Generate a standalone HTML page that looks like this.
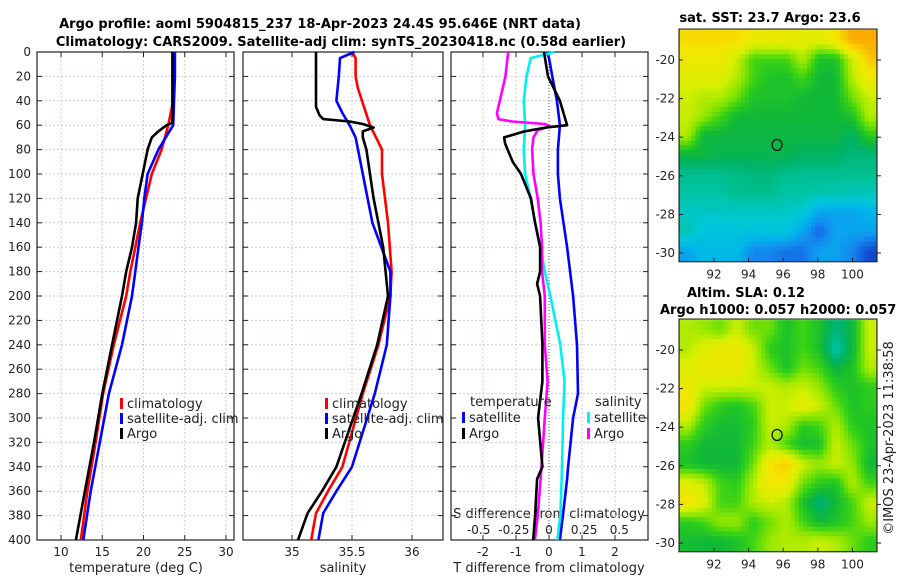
<!DOCTYPE html>
<html><head><meta charset="utf-8"><style>
html,body{margin:0;padding:0;background:#fff;}
svg{display:block;font-family:"DejaVu Sans","Liberation Sans",sans-serif;}
</style></head><body>
<svg id="fig" width="900" height="580" viewBox="0 0 900 580">
<text x="320" y="28" font-size="13" font-weight="bold" text-anchor="middle">Argo profile: aoml 5904815_237 18-Apr-2023 24.4S 95.646E (NRT data)</text>
<text x="341" y="46" font-size="13" font-weight="bold" text-anchor="middle">Climatology: CARS2009. Satellite-adj clim: synTS_20230418.nc (0.58d earlier)</text>
<text x="770" y="22" font-size="13" font-weight="bold" text-anchor="middle">sat. SST: 23.7 Argo: 23.6</text>
<text x="687" y="297" font-size="13" font-weight="bold">Altim. SLA: 0.12</text>
<text x="660" y="314" font-size="13" font-weight="bold">Argo h1000: 0.057 h2000: 0.057</text>
<text x="0" y="0" font-size="13" text-anchor="middle" transform="translate(893,438) rotate(-90)" fill="#222">©IMOS 23-Apr-2023 11:38:58</text>
<text x="136" y="572" font-size="13" text-anchor="middle" fill="#222">temperature (deg C)</text>
<text x="343" y="572" font-size="13" text-anchor="middle" fill="#222">salinity</text>
<text x="549" y="572" font-size="13" text-anchor="middle" fill="#222">T difference from climatology</text>
<text x="549" y="518" font-size="13" text-anchor="middle" fill="#222">S difference from climatology</text>
</svg>
<script>
// ---- profile data (depth in m) ----
const depthTicks = [0,20,40,60,80,100,120,140,160,180,200,220,240,260,280,300,320,340,360,380,400];
const tempTicks = [10,15,20,25,30];
const salTicks = [35,35.5,36];
const salTickLabels = ["35","35.5","36"];
const tdiffTicks = [-2,-1,0,1,2];
const sdiffTicks = [-0.5,-0.25,0,0.25,0.5];
const sdiffTickLabels = ["-0.5","-0.25","0","0.25","0.5"];

const tempClimDepth = [0,20,40,60,80,100,120,140,160,180,200,240,280,320,360,400];
const tempClim = [23.7,23.7,23.6,23.0,22.2,21.0,20.3,19.6,19.0,18.4,17.9,16.4,15.1,14.2,13.2,12.4];
const tempSatDepth = [0,20,40,60,80,100,120,140,160,180,200,240,280,320,360,400];
const tempSat = [23.8,23.8,23.7,23.6,21.8,20.5,20.1,19.8,19.4,19.0,18.6,17.4,15.8,14.7,13.6,12.7];
const tempArgoDepth = [0,20,40,58,60,65,70,80,100,120,140,160,180,200,240,280,320,360,400];
const tempArgo = [23.5,23.5,23.5,23.5,22.8,21.8,21.0,20.5,19.9,19.3,19.1,18.6,17.9,17.4,16.2,15.0,14.0,12.9,11.8];

const salClimDepth = [0,5,20,30,60,80,100,140,180,200,240,280,340,360,378,400];
const salClim = [35.5,35.53,35.53,35.55,35.65,35.75,35.75,35.8,35.83,35.82,35.72,35.59,35.42,35.3,35.2,35.16];
const salSatDepth = [0,5,20,40,50,60,70,80,100,140,180,200,240,280,340,360,378,400];
const salSat = [35.52,35.4,35.39,35.37,35.42,35.48,35.53,35.55,35.59,35.67,35.82,35.82,35.79,35.69,35.5,35.37,35.26,35.22];
const salArgoDepth = [0,20,40,45,52,55,57,59,62,65,70,80,100,120,140,160,180,200,240,280,340,360,378,400];
const salArgo = [35.2,35.2,35.2,35.2,35.23,35.26,35.48,35.59,35.68,35.59,35.59,35.62,35.65,35.68,35.72,35.76,35.78,35.8,35.71,35.58,35.37,35.25,35.13,35.05];

const tdSatDepth = [0,5,20,40,60,80,100,120,160,200,240,280,300,340,350,380,400];
const tdSat = [-0.06,0,0.1,0.24,0.33,0.27,0.27,0.33,0.55,0.73,0.85,0.88,0.73,0.58,0.55,0.42,0.33];
const tdArgoDepth = [0,20,40,60,62,65,70,75,90,100,120,140,160,180,190,200,240,270,300,340,350,380,400];
const tdArgo = [-0.15,-0.03,0.33,0.55,-0.1,-0.73,-1.36,-1.33,-1.1,-0.85,-0.55,-0.42,-0.27,-0.27,-0.36,-0.27,-0.2,-0.2,-0.33,-0.2,-0.36,-0.42,-0.48];
const sdSatDepth = [0,5,20,40,60,80,100,120,140,160,180,200,240,270,300,350,380,400];
const sdSat = [0.04,-0.13,-0.16,-0.18,-0.17,-0.18,-0.17,-0.13,-0.1,-0.06,-0.03,0.01,0.08,0.11,0.1,0.09,0.08,0.06];
const sdArgoDepth = [0,20,40,50,55,57,59,61,64,70,80,100,120,140,160,180,200,240,270,300,350,380,400];
const sdArgo = [-0.29,-0.31,-0.35,-0.37,-0.36,-0.26,-0.03,0.01,-0.08,-0.11,-0.12,-0.11,-0.08,-0.06,-0.05,-0.05,-0.03,-0.03,-0.01,-0.03,-0.06,-0.08,-0.1];

// ---- map data (colour index 0..1), 12 rows (north->south) x 12 cols (west->east) ----
const lonTicks = [92,94,96,98,100];
const latTicks = [-20,-22,-24,-26,-28,-30];
const argoLon = 95.646;
const argoLat = -24.4;
const sstGrid = [
[0.82,0.82,0.82,0.82,0.78,0.78,0.78,0.76,0.76,0.8,0.9,0.9],
[0.78,0.78,0.78,0.72,0.62,0.62,0.62,0.7,0.58,0.58,0.72,0.85],
[0.75,0.75,0.75,0.7,0.62,0.58,0.58,0.62,0.56,0.56,0.7,0.78],
[0.72,0.7,0.7,0.65,0.58,0.58,0.58,0.56,0.56,0.56,0.65,0.72],
[0.72,0.68,0.62,0.56,0.56,0.56,0.56,0.56,0.56,0.56,0.58,0.7],
[0.7,0.55,0.55,0.55,0.55,0.55,0.55,0.55,0.55,0.55,0.52,0.6],
[0.55,0.55,0.54,0.54,0.54,0.54,0.54,0.52,0.52,0.52,0.5,0.5],
[0.48,0.48,0.48,0.49,0.5,0.5,0.48,0.48,0.48,0.48,0.48,0.48],
[0.46,0.46,0.46,0.48,0.48,0.48,0.46,0.46,0.45,0.45,0.44,0.44],
[0.42,0.42,0.42,0.42,0.42,0.42,0.42,0.4,0.3,0.3,0.3,0.33],
[0.45,0.38,0.38,0.38,0.38,0.38,0.38,0.3,0.2,0.3,0.3,0.3],
[0.3,0.35,0.35,0.35,0.25,0.25,0.22,0.22,0.3,0.3,0.25,0.15]];
const slaGrid = [
[0.7,0.68,0.65,0.72,0.65,0.65,0.58,0.62,0.58,0.5,0.55,0.72],
[0.7,0.75,0.78,0.78,0.72,0.6,0.58,0.62,0.58,0.45,0.55,0.72],
[0.75,0.78,0.78,0.78,0.72,0.65,0.58,0.65,0.62,0.55,0.58,0.7],
[0.78,0.72,0.72,0.72,0.72,0.72,0.7,0.72,0.68,0.6,0.58,0.6],
[0.8,0.65,0.6,0.58,0.62,0.72,0.72,0.76,0.72,0.65,0.58,0.6],
[0.7,0.6,0.57,0.57,0.6,0.72,0.7,0.6,0.62,0.7,0.6,0.58],
[0.6,0.56,0.56,0.56,0.62,0.7,0.62,0.57,0.58,0.72,0.65,0.58],
[0.58,0.56,0.56,0.56,0.65,0.8,0.85,0.72,0.68,0.72,0.68,0.56],
[0.75,0.72,0.62,0.6,0.7,0.8,0.78,0.65,0.6,0.58,0.7,0.62],
[0.8,0.75,0.62,0.62,0.7,0.72,0.7,0.58,0.5,0.56,0.62,0.72],
[0.6,0.62,0.68,0.68,0.6,0.65,0.7,0.62,0.56,0.58,0.62,0.68],
[0.57,0.56,0.56,0.58,0.62,0.68,0.7,0.7,0.72,0.7,0.65,0.6]];

const NS = "http://www.w3.org/2000/svg";
const svg = document.getElementById('fig');
function el(tag, attrs, parent){ const e=document.createElementNS(NS,tag); for(const k in attrs) e.setAttribute(k,attrs[k]); (parent||svg).appendChild(e); return e; }
function txt(x,y,s,attrs,parent){ const t=el('text',Object.assign({x:x,y:y,'font-size':12,fill:'#222'},attrs||{}),parent); t.textContent=s; return t; }

const Y0=52, Y1=540;
const yDepth = d => Y0 + d*(Y1-Y0)/400;
const panels = [
  {name:'temperature', x0:37, x1:234, xs:v=>61+(v-10)*8.25},
  {name:'salinity', x0:243, x1:443, xs:v=>292+(v-35)*120},
  {name:'difference', x0:451, x1:648, xs:v=>549+v*33}
];
const xS3 = v => 549 + v*140.7;

panels.forEach((p,i)=>{
  const g = el('g',{});
  
  
  depthTicks.forEach(d=>{
    const y=yDepth(d);
    const l=el('line',{x1:p.x0,x2:p.x1,y1:y,y2:y,stroke:'#c4cce6','stroke-width':1,'stroke-dasharray':'2,2'},g);
    
    
    el('line',{x1:p.x0,x2:p.x0+5,y1:y,y2:y,stroke:'#222'},g);
    el('line',{x1:p.x1-5,x2:p.x1,y1:y,y2:y,stroke:'#222'},g);
  });
  const ticks = i===0?tempTicks:(i===1?salTicks:tdiffTicks);
  const labels = i===1?salTickLabels:ticks.map(String);
  ticks.forEach((t,k)=>{
    const x=p.xs(t);
    const l=el('line',{x1:x,x2:x,y1:Y0,y2:Y1,stroke:(i===2&&t===0)?'#555':'#e0c8b8','stroke-width':1,'stroke-dasharray':(i===2&&t===0)?'1,2':'2,2'},g);
    
    
    el('line',{x1:x,x2:x,y1:Y0,y2:Y0+5,stroke:'#222'},g);
    el('line',{x1:x,x2:x,y1:Y1-5,y2:Y1,stroke:'#222'},g);
    const tl=txt(x,556,labels[k],{'text-anchor':'middle'},g);
    
    
  });
  const b=el('rect',{x:p.x0,y:Y0,width:p.x1-p.x0,height:Y1-Y0,fill:'none',stroke:'#222','stroke-width':1.2},g);
  
  
});
depthTicks.forEach(d=>{
  const t=txt(31,yDepth(d)+4,String(d),{'text-anchor':'end'});
  
  
});
sdiffTicks.forEach((v,k)=>{
  const t=txt(xS3(v),534,sdiffTickLabels[k],{'text-anchor':'middle'});
  
  
});

function profile(depths, vals, xs, color, name){
  const pts = vals.map((v,k)=>xs(v).toFixed(1)+','+yDepth(depths[k]).toFixed(1)).join(' ');
  const pl = el('polyline',{points:pts,fill:'none',stroke:color,'stroke-width':2.6,'stroke-linejoin':'round'});
  
  
}
profile(tempClimDepth,tempClim,panels[0].xs,'#ff0000','temp-climatology-line');
profile(tempSatDepth,tempSat,panels[0].xs,'#0000ff','temp-satellite-line');
profile(tempArgoDepth,tempArgo,panels[0].xs,'#000000','temp-argo-line');
profile(salClimDepth,salClim,panels[1].xs,'#ff0000','sal-climatology-line');
profile(salSatDepth,salSat,panels[1].xs,'#0000ff','sal-satellite-line');
profile(salArgoDepth,salArgo,panels[1].xs,'#000000','sal-argo-line');
profile(tdSatDepth,tdSat,panels[2].xs,'#0000ff','tdiff-satellite-line');
profile(sdSatDepth,sdSat,xS3,'#00f0f0','sdiff-satellite-line');
profile(sdArgoDepth,sdArgo,xS3,'#ff00ff','sdiff-argo-line');
profile(tdArgoDepth,tdArgo,panels[2].xs,'#000000','tdiff-argo-line');

function legend(x,y,color,label,name){
  const g=el('g',{});
  
  
  el('rect',{x:x,y:y-10,width:3,height:11,fill:color},g);
  txt(x+7,y,label,{'font-size':13},g);
}
[['#ff0000','climatology'],['#0000ff','satellite-adj. clim'],['#000000','Argo']].forEach((e,k)=>{
  legend(120,408+k*15,e[0],e[1],'temp-legend-entry');
  legend(325,408+k*15,e[0],e[1],'sal-legend-entry');
});
txt(470,406,'temperature',{'font-size':13});
txt(595,406,'salinity',{'font-size':13});
legend(462,422,'#0000ff','satellite','tdiff-legend-satellite');
legend(462,438,'#000000','Argo','tdiff-legend-argo');
legend(587,422,'#00f0f0','satellite','sdiff-legend-satellite');
legend(587,438,'#ff00ff','Argo','sdiff-legend-argo');

// colormap
const stops=[[0.1,[10,40,190]],[0.18,[20,90,220]],[0.26,[20,140,240]],[0.33,[0,180,235]],[0.4,[0,200,215]],[0.46,[0,196,165]],[0.52,[0,178,100]],[0.56,[16,184,56]],[0.61,[50,208,24]],[0.67,[140,230,0]],[0.73,[215,240,0]],[0.8,[245,230,0]],[0.9,[250,170,0]]];
function cmap(v){
  if(v<=stops[0][0]) return 'rgb('+stops[0][1]+')';
  for(let i=1;i<stops.length;i++){
    if(v<=stops[i][0]){const a=stops[i-1],b=stops[i],t=(v-a[0])/(b[0]-a[0]);
      return 'rgb('+a[1].map((c,j)=>Math.round(c+(b[1][j]-c)*t)).join(',')+')';}
  }
  return 'rgb('+stops[stops.length-1][1]+')';
}
function sample(grid, fr, fc){
  const nr=grid.length, nc=grid[0].length;
  const r=Math.min(Math.max(fr-0.5,0),nr-1), c=Math.min(Math.max(fc-0.5,0),nc-1);
  const r0=Math.floor(r), c0=Math.floor(c), r1=Math.min(r0+1,nr-1), c1=Math.min(c0+1,nc-1);
  const tr=r-r0, tc=c-c0;
  return (grid[r0][c0]*(1-tc)+grid[r0][c1]*tc)*(1-tr)+(grid[r1][c0]*(1-tc)+grid[r1][c1]*tc)*tr;
}
function drawMap(grid, yLat20, name){
  const lonX = l => 714+(l-92)*17.3;
  const latY = l => yLat20+(-20-l)*19.3;
  const lonW=89.98, lonE=101.42, latN=-18.45, latS=-30.4;
  const g=el('g',{});
  
  
  const nr=grid.length, nc=grid[0].length, sub=4;
  for(let r=0;r<nr*sub;r++) for(let c=0;c<nc*sub;c++){
    const la=latN+(latS-latN)*r/(nr*sub), lb=latN+(latS-latN)*(r+1)/(nr*sub);
    const oa=lonW+(lonE-lonW)*c/(nc*sub), ob=lonW+(lonE-lonW)*(c+1)/(nc*sub);
    const x=lonX(oa), y=latY(la);
    const v=sample(grid,(r+0.5)/sub,(c+0.5)/sub);
    const cell=el('rect',{x:x.toFixed(1),y:y.toFixed(1),width:(lonX(ob)-x+0.6).toFixed(1),height:(latY(lb)-y+0.6).toFixed(1),fill:cmap(v)},g);
    
    
  }
  const x0=lonX(lonW), x1=lonX(lonE), y0=latY(latN)-1, y1=latY(latS)+1;
  el('rect',{x:x0,y:y0,width:x1-x0,height:y1-y0,fill:'none',stroke:'#222','stroke-width':1.2},g);
  lonTicks.forEach(l=>{const x=lonX(l);
    el('line',{x1:x,x2:x,y1:y1,y2:y1-4,stroke:'#222'},g);
    const t=txt(x,y1+17,String(l),{'text-anchor':'middle'},g);
    
    });
  latTicks.forEach(l=>{const y=latY(l);
    el('line',{x1:x0,x2:x0+4,y1:y,y2:y,stroke:'#222'},g);
    el('line',{x1:x1,x2:x1+4,y1:y,y2:y,stroke:'#222'},g);
    const t=txt(x0-4,y+4,String(l),{'text-anchor':'end'},g);
    
    });
  const m=el('ellipse',{cx:lonX(argoLon),cy:latY(argoLat),rx:5,ry:5.5,fill:'none',stroke:'#000','stroke-width':1.2},g);
  
  
}
drawMap(sstGrid,60,'sst-map');
drawMap(slaGrid,350,'sla-map');
</script>
</body></html>
